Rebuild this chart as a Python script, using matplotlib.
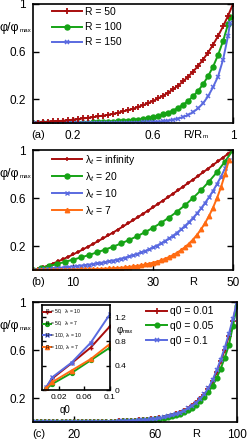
import numpy as np
import matplotlib
matplotlib.use("Agg")
import matplotlib.pyplot as plt

plt.rcParams['font.family'] = ['Liberation Sans', 'DejaVu Sans']
plt.rcParams['mathtext.fontset'] = 'custom'
plt.rcParams['mathtext.rm'] = 'Liberation Sans'
plt.rcParams['mathtext.it'] = 'Liberation Sans:italic'

RED = '#a80d0d'
GREEN = '#16a316'
BLUE = '#5a6ae0'
ORANGE = '#ff6b12'

# ---- (a) phi/phi_max against R/Rm for three radii
a_x = np.arange(41) * 0.025
a_x_end = np.append(np.arange(40) * 0.025, 0.985)
a_r50 = [0.000, 0.004, 0.007, 0.010, 0.013, 0.016, 0.019, 0.023, 0.028, 0.033,
         0.038, 0.044, 0.049, 0.056, 0.062, 0.069, 0.077, 0.086, 0.097, 0.108,
         0.120, 0.134, 0.150, 0.166, 0.185, 0.206, 0.229, 0.254, 0.283, 0.314,
         0.349, 0.388, 0.431, 0.479, 0.532, 0.591, 0.657, 0.730, 0.811, 0.900,
         1.000]
a_r100 = [0.000, 0.001, 0.001, 0.001, 0.001, 0.001, 0.002, 0.002, 0.002, 0.003,
          0.003, 0.004, 0.005, 0.006, 0.007, 0.008, 0.011, 0.013, 0.016, 0.020,
          0.024, 0.028, 0.034, 0.041, 0.050, 0.060, 0.072, 0.087, 0.105, 0.127,
          0.153, 0.185, 0.223, 0.269, 0.325, 0.392, 0.472, 0.570, 0.687, 0.829,
          0.890]
a_r150 = [0.000, 0.000, 0.000, 0.000, 0.000, 0.000, 0.000, 0.000, 0.000, 0.000,
          0.000, 0.000, 0.000, 0.000, 0.000, 0.000, 0.001, 0.001, 0.001, 0.002,
          0.003, 0.003, 0.005, 0.006, 0.008, 0.011, 0.015, 0.020, 0.027, 0.037,
          0.050, 0.067, 0.091, 0.122, 0.165, 0.223, 0.301, 0.390, 0.530, 0.730,
          0.840]

# ---- (b) phi/phi_max against R for several lambda_t
b_x_inf = np.arange(41) * 1.25
b_x_20 = np.arange(26) * 2.0
b_x_10 = np.arange(50) * 1.0
b_x_7 = np.arange(50) * 1.0
b_inf = [0.000, 0.009, 0.022, 0.037, 0.054, 0.071, 0.090, 0.109, 0.130, 0.150,
         0.172, 0.194, 0.217, 0.240, 0.264, 0.288, 0.312, 0.337, 0.363, 0.389,
         0.415, 0.441, 0.468, 0.495, 0.523, 0.551, 0.579, 0.607, 0.636, 0.665,
         0.694, 0.724, 0.753, 0.783, 0.814, 0.844, 0.875, 0.906, 0.937, 0.968,
         1.000]
b_20 = [0.000, 0.017, 0.033, 0.050, 0.068, 0.086, 0.105, 0.125, 0.147, 0.170,
        0.194, 0.221, 0.250, 0.281, 0.315, 0.352, 0.393, 0.437, 0.486, 0.540,
        0.600, 0.665, 0.737, 0.816, 0.904, 1.000]
b_10 = [0.000, 0.003, 0.005, 0.008, 0.011, 0.013, 0.016, 0.019, 0.022, 0.026,
        0.029, 0.033, 0.037, 0.041, 0.045, 0.050, 0.055, 0.060, 0.066, 0.073,
        0.079, 0.087, 0.095, 0.103, 0.113, 0.123, 0.134, 0.146, 0.158, 0.172,
        0.188, 0.204, 0.222, 0.242, 0.263, 0.286, 0.311, 0.338, 0.368, 0.399,
        0.434, 0.472, 0.513, 0.558, 0.607, 0.659, 0.717, 0.779, 0.846, 0.920]
b_7 = [0.000, 0.000, 0.001, 0.001, 0.001, 0.001, 0.002, 0.002, 0.002, 0.003,
       0.003, 0.004, 0.005, 0.005, 0.006, 0.007, 0.008, 0.010, 0.011, 0.013,
       0.015, 0.017, 0.019, 0.022, 0.026, 0.030, 0.034, 0.040, 0.046, 0.053,
       0.061, 0.070, 0.081, 0.094, 0.108, 0.125, 0.144, 0.166, 0.191, 0.220,
       0.254, 0.293, 0.338, 0.390, 0.450, 0.519, 0.599, 0.691, 0.797, 0.920]

# ---- (c) phi/phi_max against R for several q0
c_x = np.arange(51) * 2.0
c_q001 = [0.000, 0.000, 0.000, 0.000, 0.000, 0.000, 0.000, 0.000, 0.001, 0.001,
          0.001, 0.001, 0.001, 0.001, 0.001, 0.002, 0.002, 0.003, 0.003, 0.004,
          0.004, 0.005, 0.006, 0.007, 0.009, 0.011, 0.013, 0.015, 0.018, 0.022,
          0.026, 0.031, 0.037, 0.045, 0.054, 0.064, 0.077, 0.092, 0.110, 0.132,
          0.158, 0.190, 0.228, 0.275, 0.338, 0.415, 0.505, 0.600, 0.715, 0.840,
          1.000]
c_q005 = [0.000, 0.000, 0.000, 0.000, 0.000, 0.000, 0.000, 0.000, 0.001, 0.001,
          0.001, 0.001, 0.001, 0.001, 0.001, 0.002, 0.002, 0.002, 0.003, 0.003,
          0.004, 0.004, 0.005, 0.006, 0.008, 0.009, 0.011, 0.013, 0.016, 0.019,
          0.023, 0.028, 0.033, 0.040, 0.048, 0.057, 0.068, 0.082, 0.099, 0.118,
          0.142, 0.171, 0.205, 0.248, 0.300, 0.365, 0.445, 0.535, 0.640, 0.800,
          0.970]
c_q01 = [0.000, 0.000, 0.000, 0.000, 0.000, 0.000, 0.000, 0.000, 0.001, 0.001,
         0.001, 0.001, 0.001, 0.001, 0.001, 0.002, 0.002, 0.003, 0.003, 0.004,
         0.004, 0.005, 0.006, 0.007, 0.009, 0.011, 0.013, 0.015, 0.018, 0.022,
         0.026, 0.032, 0.038, 0.046, 0.055, 0.065, 0.078, 0.094, 0.113, 0.135,
         0.162, 0.195, 0.233, 0.285, 0.350, 0.430, 0.520, 0.620, 0.735, 0.860,
         1.000]

# ---- inset: phi_max against q0
ins_q0 = [0.001, 0.01, 0.04, 0.07, 0.1]
ins_r50_l10 = [0.05, 0.19, 0.44, 0.70, 1.05]
ins_r50_l7 = [0.02, 0.10, 0.28, 0.49, 0.70]
ins_r100_l10 = [0.05, 0.21, 0.45, 0.78, 1.25]
ins_r100_l7 = [0.03, 0.13, 0.32, 0.51, 0.76]

W, H = 249, 440
fig = plt.figure(figsize=(W / 100, H / 100), dpi=100)


def px_axes(l, t, r, b):
    return fig.add_axes([l / W, 1 - b / H, (r - l) / W, (b - t) / H])


def sub_text(ax, x, y, main, sub, size, subsize, transform, ha='left'):
    t = ax.text(x, y, main, transform=transform, fontsize=size, ha=ha, va='center')
    ax.annotate(sub, xy=(1.0, 0.05), xycoords=t, fontsize=subsize, ha='left', va='bottom')
    return t


def frame(ax, xlim, xticks, panel, xlab_x, xlab, xlab_sub=None):
    ax.set_xlim(*xlim)
    ax.set_ylim(0, 1)
    ax.set_yticks([0.2, 0.6, 1.0], ['0.2', '0.6', '1'])
    ax.set_xticks(xticks, [('%g' % v) for v in xticks])
    ax.tick_params(direction='in', length=4, width=1, labelsize=8.5, pad=5, right=True)
    for s in ax.spines.values():
        s.set_linewidth(1.2)
        s.set_zorder(5)
    tr = ax.get_xaxis_transform()
    h = ax.get_position().height * H
    yoff = -12 / h
    ax.text(xlim[0] + 0.028 * (xlim[1] - xlim[0]), yoff, panel, transform=tr,
            ha='center', va='center', fontsize=8)
    if xlab_sub:
        sub_text(ax, xlab_x, yoff, xlab, xlab_sub, 8, 4.5, tr, ha='center')
    else:
        ax.text(xlab_x, yoff, xlab, transform=tr, ha='center', va='center', fontsize=8)
    w = ax.get_position().width * W
    sub_text(ax, -33 / w, 0.8, 'φ/φ', 'max', 9, 4.5, ax.get_yaxis_transform())


lkw = dict(lw=1.4, clip_on=True)

# panel (a)
ax = px_axes(33, 4, 233, 123)
ax.plot(a_x, a_r50, color=RED, marker='+', ms=4.5, mew=1.3, label='R = 50', zorder=4, **lkw)
ax.plot(a_x_end, a_r100, color=GREEN, marker='o', ms=3.6, label='R = 100', zorder=3, **lkw)
ax.plot(a_x_end, a_r150, color=BLUE, marker='x', ms=3.5, mew=1.1, label='R = 150', zorder=3.5, **lkw)
frame(ax, (0, 1), [0.2, 0.6, 1.0], '(a)', 0.80, 'R/R', 'm')
ax.legend(loc='upper left', bbox_to_anchor=(0.095, 0.975), frameon=False, fontsize=7.5,
          handlelength=2.9, handletextpad=0.3, labelspacing=0.5, borderpad=0, borderaxespad=0)

# panel (b)
ax = px_axes(33, 150, 233, 270)
ax.plot(b_x_inf, b_inf, color=RED, marker='+', ms=3, mew=1.1, label='λ$_t$ = infinity', **lkw)
ax.plot(b_x_20, b_20, color=GREEN, marker='o', ms=3.6, label='λ$_t$ = 20', **lkw)
ax.plot(b_x_10, b_10, color=BLUE, marker='x', ms=3, mew=1.0, label='λ$_t$ = 10', **lkw)
ax.plot(b_x_7, b_7, color=ORANGE, marker='^', ms=3.2, label='λ$_t$ = 7', **lkw)
frame(ax, (0, 50), [10, 30, 50], '(b)', 40, 'R')
ax.legend(loc='upper left', bbox_to_anchor=(0.095, 0.975), frameon=False, fontsize=7.5,
          handlelength=2.9, handletextpad=0.3, labelspacing=0.3, borderpad=0, borderaxespad=0)

# panel (c)
ax = px_axes(33, 302, 237, 422)
ax.plot(c_x, c_q001, color=RED, marker='+', ms=4, mew=1.2, label='q0 = 0.01', **lkw)
ax.plot(c_x, c_q005, color=GREEN, marker='o', ms=3.4, label='q0 = 0.05', **lkw)
ax.plot(c_x, c_q01, color=BLUE, marker='x', ms=3.3, mew=1.1, label='q0 = 0.1', **lkw)
frame(ax, (0, 100), [20, 60, 100], '(c)', 80, 'R')
ax.legend(loc='upper left', bbox_to_anchor=(0.555, 0.965), frameon=False, fontsize=7.5,
          handlelength=2.0, handletextpad=0.3, labelspacing=0.45, borderpad=0, borderaxespad=0)

# inset of panel (c)
ins = px_axes(42, 305, 110, 390)
ins.plot(ins_q0, ins_r50_l10, color=RED, marker='+', ms=3.5, mew=1.0, lw=1.4, label='R = 50,  λ$_t$ = 10')
ins.plot(ins_q0, ins_r50_l7, color=GREEN, marker='o', ms=2.8, lw=1.4, label='R = 50,  λ$_t$ = 7')
ins.plot(ins_q0, ins_r100_l10, color=BLUE, marker='x', ms=3, mew=1.0, lw=1.4, label='R = 100, λ$_t$ = 10')
ins.plot(ins_q0, ins_r100_l7, color=ORANGE, marker='^', ms=3, lw=1.4, label='R = 100, λ$_t$ = 7')
ins.set_xlim(-0.006, 0.1)
ins.set_ylim(0, 1.4)
ins.set_xticks([0.02, 0.06, 0.1], ['0.02', '0.06', '0.1'])
ins.set_yticks([0, 0.4, 0.8, 1.2], ['0', '0.4', '0.8', '1.2'])
ins.yaxis.tick_right()
ins.tick_params(direction='in', length=3, width=1, labelsize=6, pad=3, left=True, right=True)
for s in ins.spines.values():
    s.set_linewidth(1.2)
ins.legend(loc='upper left', bbox_to_anchor=(0.02, 0.97), frameon=False, fontsize=3.6,
           handlelength=1.6, handletextpad=-1.2, labelspacing=0.6, borderpad=0, borderaxespad=0)
ins.text(0.34, -0.24, 'q0', transform=ins.transAxes, ha='center', va='center', fontsize=7)
sub_text(ins, 1.1, 0.71, 'φ', 'max', 7, 4, ins.transAxes)

fig.savefig('out.png', dpi=100)
